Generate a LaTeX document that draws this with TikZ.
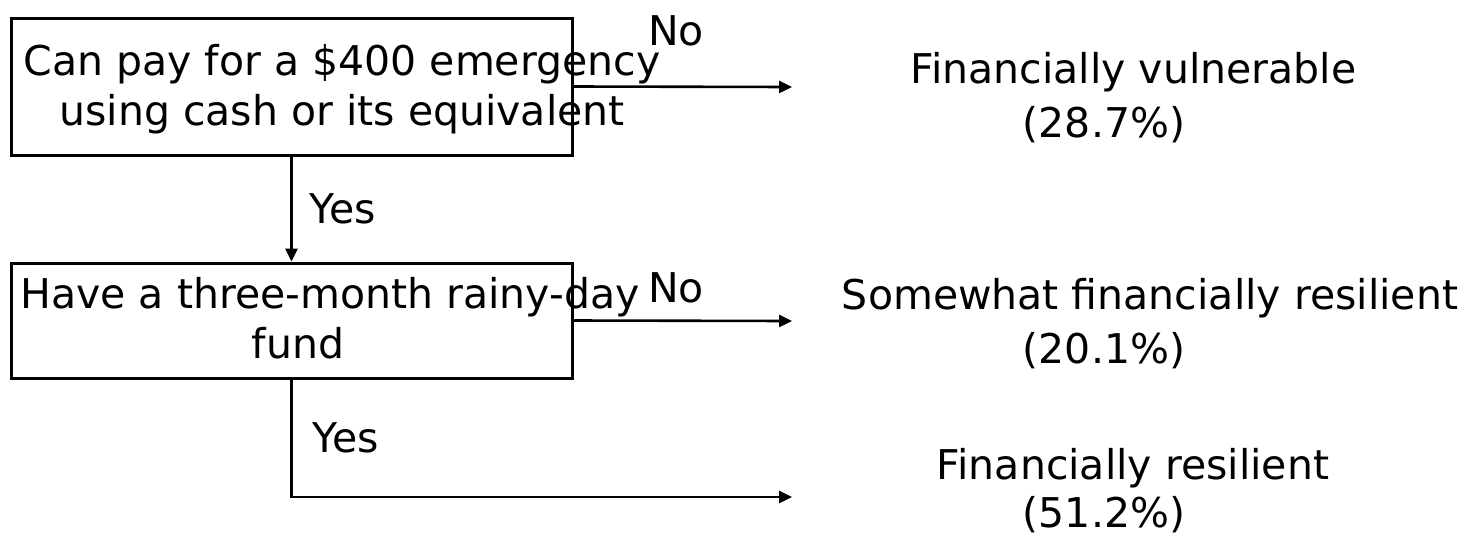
\documentclass[tikz,border=0pt]{standalone}
\usepackage{fontspec}
\setmainfont{DejaVu Sans}
\usetikzlibrary{arrows.meta}
\tikzset{
  decbox/.style={draw=black, line width=1.5pt, rectangle, inner sep=0pt, minimum width=280.5pt},
  conn/.style={draw=black, line width=1.3pt, -{Triangle[length=6.5pt,width=6pt]}},
  lbl/.style={anchor=base, inner sep=0pt, font=\fontsize{20.5pt}{25pt}\selectfont},
  boxtext/.style={anchor=base, inner sep=0pt, align=center, font=\fontsize{20.5pt}{25pt}\selectfont},
  restext/.style={anchor=base, inner sep=0pt, align=center, font=\fontsize{20.5pt}{27pt}\selectfont}
}
\begin{document}
\begin{tikzpicture}[x=0.5pt,y=-0.5pt]
\useasboundingbox[fill=white] (0,0) rectangle (1475,536);
% boxes
\node[decbox, minimum height=68.5pt] (box1) at (291.5,86.5) {};
\node[decbox, minimum height=57.5pt] (box2) at (291.5,320.5) {};
% box texts (base anchor = baseline of the last line)
\node[boxtext] (t1) at (342,125) {Can pay for a \$400 emergency\\using cash or its equivalent};
\node[boxtext] (t2) at (330,358) {Have a three-month rainy-day\\fund\hspace*{32pt}};
% outcome texts
\node[restext] (r1) at (1133.5,137) {Financially vulnerable\\(28.7\%)\hspace*{29.5pt}};
\node[restext] (r2) at (1150,363) {Somewhat financially resilient\\(20.1\%)\hspace*{46pt}};
\node[restext] (r3) at (1133,527) {Financially resilient\\[-3pt](51.2\%)\hspace*{29pt}};
% connector ends
\coordinate (e1) at (792,87);
\coordinate (e2) at (792,321);
\coordinate (e3) at (792,497);
% connectors
\draw[conn] (box1.east) -- (e1);
\draw[conn] (box1.south) -- (box2.north);
\draw[conn] (box2.east) -- (e2);
\draw[conn] (box2.south) |- (e3);
% labels
\node[lbl] (no1) at (676,45) {No};
\node[lbl] (yes1) at (343,223) {Yes};
\node[lbl] (no2) at (676,302) {No};
\node[lbl] (yes2) at (346,452) {Yes};
\end{tikzpicture}
\end{document}
